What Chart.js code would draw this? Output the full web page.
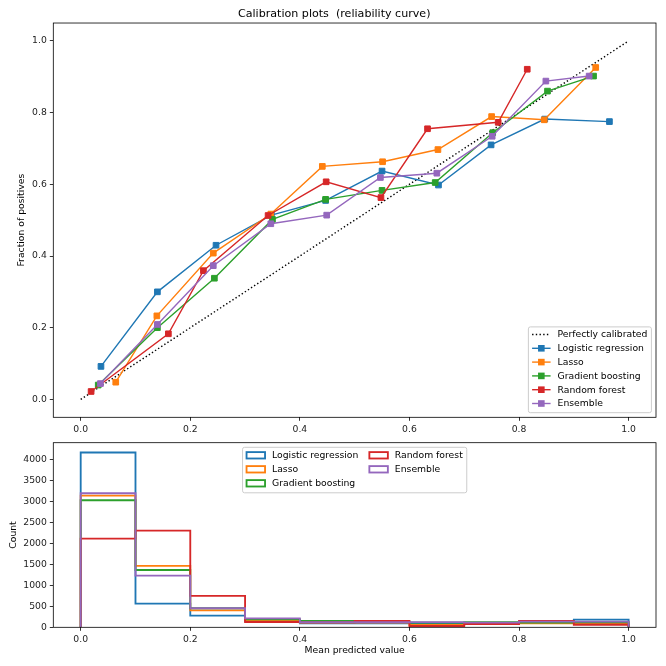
<!DOCTYPE html>
<html lang="en">
<head>
<meta charset="UTF-8">
<title>Calibration plots</title>
<script src="https://cdn.jsdelivr.net/npm/chart.js"></script>
<style>
  html, body { margin: 0; padding: 0; background: #fff; }
  .wrap { position: relative; width: 666px; height: 666px; }
  .wrap canvas { position: absolute; left: 0; top: 0; }
</style>
</head>
<body>
<div class="wrap">
  <canvas id="calibChart" width="666" height="666"></canvas>
  <canvas id="histChart" width="666" height="666"></canvas>
</div>
<script>
// ---- data ----
const modelNames = ['Logistic regression', 'Lasso', 'Gradient boosting', 'Random forest', 'Ensemble'];

const lrX = [0.037, 0.140, 0.247, 0.348, 0.447, 0.550, 0.653, 0.749, 0.847, 0.965];
const lrY = [0.092, 0.300, 0.430, 0.514, 0.555, 0.637, 0.598, 0.710, 0.782, 0.775];
const lassoX = [0.064, 0.139, 0.242, 0.347, 0.441, 0.551, 0.652, 0.750, 0.846, 0.940];
const lassoY = [0.048, 0.233, 0.408, 0.517, 0.650, 0.663, 0.697, 0.789, 0.780, 0.926];
const gbX = [0.032, 0.140, 0.244, 0.350, 0.447, 0.550, 0.647, 0.752, 0.852, 0.936];
const gbY = [0.040, 0.200, 0.338, 0.502, 0.558, 0.583, 0.605, 0.744, 0.860, 0.902];
const rfX = [0.019, 0.160, 0.224, 0.342, 0.448, 0.548, 0.633, 0.762, 0.815];
const rfY = [0.022, 0.183, 0.359, 0.513, 0.607, 0.563, 0.755, 0.773, 0.921];
const ensX = [0.036, 0.140, 0.242, 0.347, 0.449, 0.547, 0.650, 0.751, 0.849, 0.928];
const ensY = [0.044, 0.209, 0.373, 0.490, 0.514, 0.619, 0.631, 0.734, 0.888, 0.902];

const binEdges = [0, 0.1, 0.2, 0.3, 0.4, 0.5, 0.6, 0.7, 0.8, 0.9, 1.0];
const lrCounts = [4175, 566, 279, 150, 96, 96, 96, 96, 110, 185];
const lassoCounts = [3147, 1466, 406, 175, 110, 110, 55, 80, 96, 96];
const gbCounts = [3036, 1370, 454, 190, 150, 135, 110, 125, 110, 120];
const rfCounts = [2119, 2311, 749, 127, 120, 150, 30, 80, 150, 60];
const ensCounts = [3203, 1235, 454, 215, 120, 120, 125, 110, 135, 135];

const xTicks = [0, 0.2, 0.4, 0.6, 0.8, 1.0];
const fracTicks = [0, 0.2, 0.4, 0.6, 0.8, 1.0];
const countTicks = [0, 500, 1000, 1500, 2000, 2500, 3000, 3500, 4000];

const colors = ['#1f77b4', '#ff7f0e', '#2ca02c', '#d62728', '#9467bd'];
const FONT = 'DejaVu Sans';
const FS = 9.25;

Chart.defaults.font.family = FONT;
Chart.defaults.font.size = FS;
Chart.defaults.color = '#222';

function pts(xs, ys) {
    return xs.map((x, i) => ({ x: x, y: ys[i] }));
}

function stepPts(edges, counts) {
    // outline like matplotlib histtype='step'
    const out = [{ x: edges[0], y: 0 }];
    counts.forEach((c, i) => out.push({ x: edges[i], y: c }));
    out.push({ x: edges[edges.length - 1], y: counts[counts.length - 1] });
    out.push({ x: edges[edges.length - 1], y: 0 });
    return out;
}

function tickAxis(values, fmt, extra) {
    return Object.assign({
        type: 'linear',
        afterBuildTicks: s => { s.ticks = values.map(v => ({ value: v })); },
        ticks: { callback: fmt, padding: 3, color: '#222', maxRotation: 0 },
        grid: { drawOnChartArea: false, tickLength: 3.5, color: '#000', lineWidth: 0.8 },
        border: { display: false }
    }, extra);
}

function roundBox(ctx, x, y, w, h, r) {
    ctx.beginPath();
    ctx.moveTo(x + r, y);
    ctx.lineTo(x + w - r, y);
    ctx.quadraticCurveTo(x + w, y, x + w, y + r);
    ctx.lineTo(x + w, y + h - r);
    ctx.quadraticCurveTo(x + w, y + h, x + w - r, y + h);
    ctx.lineTo(x + r, y + h);
    ctx.quadraticCurveTo(x, y + h, x, y + h - r);
    ctx.lineTo(x, y + r);
    ctx.quadraticCurveTo(x, y, x + r, y);
    ctx.closePath();
    ctx.fillStyle = 'rgba(255,255,255,0.8)';
    ctx.fill();
    ctx.strokeStyle = '#cccccc';
    ctx.lineWidth = 1;
    ctx.stroke();
}

const framePlugin = {
    id: 'frame',
    afterDatasetsDraw(chart) {
        const { ctx, chartArea: a } = chart;
        ctx.save();
        ctx.strokeStyle = '#000';
        ctx.lineWidth = 0.8;
        ctx.strokeRect(a.left, a.top, a.right - a.left, a.bottom - a.top);
        ctx.restore();
    }
};

const calibLegend = {
    id: 'calibLegend',
    afterDraw(chart) {
        const { ctx, chartArea: a } = chart;
        const sets = chart.data.datasets;
        ctx.save();
        ctx.font = FS + 'px "' + FONT + '"';
        const tw = Math.max(...sets.map(d => ctx.measureText(d.label).width));
        const rowH = 13.8;
        const w = 3.7 + 18.5 + 7 + tw + 4;
        const h = sets.length * rowH + 3;
        const x = a.right - 4.6 - w;
        const y = a.bottom - 4.6 - h;
        roundBox(ctx, x, y, w, h, 2);
        sets.forEach((d, i) => {
            const cy = y + 7.6 + i * rowH;
            ctx.strokeStyle = d.borderColor;
            ctx.lineWidth = d.borderWidth;
            ctx.setLineDash(d.borderDash || []);
            ctx.beginPath();
            ctx.moveTo(x + 3.7, cy);
            ctx.lineTo(x + 3.7 + 18.5, cy);
            ctx.stroke();
            ctx.setLineDash([]);
            if (d.pointRadius > 0) {
                ctx.fillStyle = d.borderColor;
                ctx.fillRect(x + 3.7 + 9.25 - 3.3, cy - 3.3, 6.6, 6.6);
            }
            ctx.fillStyle = '#000';
            ctx.textBaseline = 'middle';
            ctx.fillText(d.label, x + 3.7 + 18.5 + 7, cy + 0.5);
        });
        ctx.restore();
    }
};

const histLegend = {
    id: 'histLegend',
    afterDraw(chart) {
        const { ctx, chartArea: a } = chart;
        const sets = chart.data.datasets;
        ctx.save();
        ctx.font = FS + 'px "' + FONT + '"';
        const rowH = 14;
        const perCol = 3;
        const col1 = sets.slice(0, perCol), col2 = sets.slice(perCol);
        const w1 = Math.max(...col1.map(d => ctx.measureText(d.label).width));
        const w2 = Math.max(...col2.map(d => ctx.measureText(d.label).width));
        const item = 18.5 + 7;
        const w = 4 + item + w1 + 11 + item + w2 + 4;
        const h = perCol * rowH + 3.5;
        const x = (a.left + a.right) / 2 - w / 2;
        const y = a.top + 4.6;
        roundBox(ctx, x, y, w, h, 2);
        sets.forEach((d, i) => {
            const col = Math.floor(i / perCol);
            const row = i % perCol;
            const lx = col === 0 ? x + 4 : x + 4 + item + w1 + 11;
            const cy = y + 8 + row * rowH;
            ctx.strokeStyle = d.borderColor;
            ctx.lineWidth = d.borderWidth;
            ctx.strokeRect(lx, cy - 3.2, 18.5, 6.4);
            ctx.fillStyle = '#000';
            ctx.textBaseline = 'middle';
            ctx.fillText(d.label, lx + item, cy + 0.5);
        });
        ctx.restore();
    }
};

// ---- top: reliability curves ----
const calXs = [lrX, lassoX, gbX, rfX, ensX];
const calYs = [lrY, lassoY, gbY, rfY, ensY];

const calibSets = [{
    label: 'Perfectly calibrated',
    data: pts([0, 1], [0, 1]),
    showLine: true,
    borderColor: '#000',
    borderWidth: 1.4,
    borderDash: [1.4, 2.3],
    pointRadius: 0,
    order: 10
}];
modelNames.forEach((name, i) => {
    calibSets.push({
        label: name,
        data: pts(calXs[i], calYs[i]),
        showLine: true,
        borderColor: colors[i],
        backgroundColor: colors[i],
        borderWidth: 1.4,
        pointStyle: 'rect',
        pointRadius: 4,
        pointBorderWidth: 1,
        pointBorderColor: colors[i],
        order: 5 - i
    });
});

new Chart(document.getElementById('calibChart'), {
    type: 'scatter',
    data: { datasets: calibSets },
    options: {
        responsive: false,
        animation: false,
        layout: { padding: { left: 12.5, right: 10, top: 0, bottom: 0 } },
        plugins: {
            legend: { display: false },
            tooltip: { enabled: false },
            title: {
                display: true,
                text: 'Calibration plots  (reliability curve)',
                color: '#000',
                font: { size: 11.1, weight: 'normal' },
                padding: { top: 7.3, bottom: 2.4 }
            }
        },
        scales: {
            x: tickAxis(xTicks, v => v.toFixed(1), {
                min: -0.05, max: 1.05,
                afterFit: s => { s.height = 666 - 417.3; }
            }),
            y: tickAxis(fracTicks, v => v.toFixed(1), {
                min: -0.05, max: 1.05,
                title: { display: true, text: 'Fraction of positives', color: '#000', padding: { top: 4, bottom: 4 } },
                afterFit: s => { s.width = 53.3 - 12.5; }
            })
        }
    },
    plugins: [framePlugin, calibLegend]
});

// ---- bottom: histogram of predictions ----
const allCounts = [lrCounts, lassoCounts, gbCounts, rfCounts, ensCounts];
const histSets = modelNames.map((name, i) => ({
    label: name,
    type: 'line',
    data: stepPts(binEdges, allCounts[i]),
    stepped: 'before',
    borderColor: colors[i],
    borderWidth: 1.85,
    pointRadius: 0,
    fill: false,
    order: 5 - i
}));

new Chart(document.getElementById('histChart'), {
    type: 'scatter',
    data: { datasets: histSets },
    options: {
        responsive: false,
        animation: false,
        layout: { padding: { left: 4.5, right: 10, top: 442.7, bottom: 5.5 } },
        plugins: {
            legend: { display: false },
            tooltip: { enabled: false }
        },
        scales: {
            x: tickAxis(xTicks, v => v.toFixed(1), {
                min: -0.05, max: 1.05,
                title: { display: true, text: 'Mean predicted value', color: '#000', padding: { top: 4, bottom: 4 } },
                afterFit: s => { s.height = 666 - 5.5 - 627.3; }
            }),
            y: tickAxis(countTicks, v => String(v), {
                min: 0, max: 4410,
                title: { display: true, text: 'Count', color: '#000', padding: { top: 4, bottom: 4 } },
                afterFit: s => { s.width = 53.3 - 4.5; }
            })
        }
    },
    plugins: [framePlugin, histLegend]
});
</script>
</body>
</html>
